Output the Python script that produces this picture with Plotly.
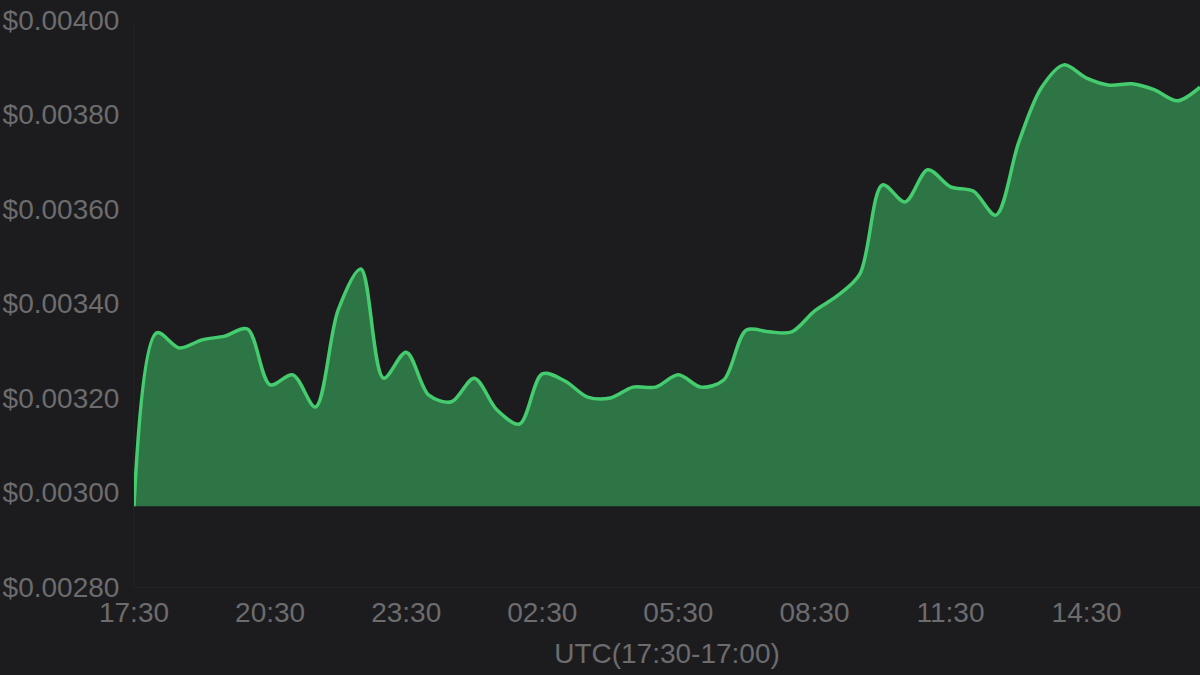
import pandas as pd
import plotly.graph_objects as go

# half-hourly price, 17:30 -> 17:00 next day
times = pd.date_range("2024-01-01 17:30", periods=48, freq="30min")
price = [
    0.002971, 0.003338, 0.003306, 0.003323, 0.003331, 0.003346, 0.003228, 0.003249,
    0.003181, 0.003386, 0.003473, 0.003242, 0.003297, 0.003206, 0.003192, 0.003242,
    0.003175, 0.003145, 0.003251, 0.003236, 0.003202, 0.003200, 0.003223, 0.003223,
    0.003249, 0.003223, 0.003238, 0.003344, 0.003340, 0.003340, 0.003384, 0.003416,
    0.003462, 0.003651, 0.003615, 0.003683, 0.003647, 0.003638, 0.003587, 0.003740,
    0.003856, 0.003905, 0.003877, 0.003862, 0.003865, 0.003852, 0.003829, 0.003858,
]
y_ticks = [0.0028, 0.0030, 0.0032, 0.0034, 0.0036, 0.0038, 0.0040]
x_ticks = pd.date_range("2024-01-01 17:30", periods=8, freq="3h")

base = min(price)
bg = "#1c1c1e"
txt = "#6c6c6e"

fig = go.Figure()
fig.add_trace(go.Scatter(x=times, y=[base] * len(times), mode="lines",
                         line=dict(width=0), hoverinfo="skip", showlegend=False))
fig.add_trace(go.Scatter(x=times, y=price, mode="lines", fill="tonexty",
                         fillcolor="#2e7546",
                         line=dict(color="#45cc6e", width=3.5, shape="spline", smoothing=0.9),
                         showlegend=False))

fig.update_layout(
    width=1200, height=675,
    paper_bgcolor=bg, plot_bgcolor=bg,
    margin=dict(l=134, r=0, t=20, b=88),
    font=dict(family="Liberation Sans, Arial, sans-serif", size=28, color=txt),
    xaxis=dict(
        range=[times[0], times[-1]],
        tickvals=x_ticks, tickformat="%H:%M",
        showgrid=False, zeroline=False,
        showline=True, linecolor="#222224", linewidth=1,
        ticklen=0,
        title=dict(text="UTC(17:30-17:00)", font=dict(size=28, color=txt), standoff=16),
    ),
    yaxis=dict(
        range=[0.0028, 0.0040],
        tickvals=y_ticks, tickformat="$.5f",
        showgrid=False, zeroline=False,
        showline=True, linecolor="#222224", linewidth=1,
        ticklen=0, ticklabelstandoff=8,
    ),
)

fig.write_html("out.html", config={"displayModeBar": False},
               post_script="document.body.style.margin='0';")
